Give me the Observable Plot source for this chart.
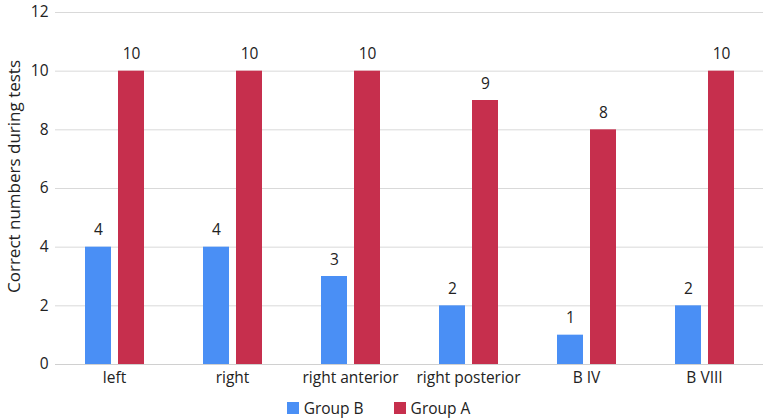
<!DOCTYPE html>
<html><head><meta charset="utf-8">
<script src="https://cdn.jsdelivr.net/npm/d3@7"></script>
<script src="https://cdn.jsdelivr.net/npm/@observablehq/plot@0.6"></script>
<style>
body{margin:0;background:#fff;font-family:"Open Sans", sans-serif;}
#chart svg{display:block}
.legend{display:flex;justify-content:center;align-items:center;gap:30px;height:25px;font-size:15.5px;color:#222;padding-right:10px}
.item{display:flex;align-items:center;gap:5px}
.sw{width:12px;height:12px;display:inline-block}
</style></head><body><div id="chart"></div><div class="legend" id="legend"></div><script>
const categories = ["left","right","right anterior","right posterior","B IV","B VIII"];
const groups = ["Group B","Group A"];
const groupB = [4,4,3,2,1,2];
const groupA = [10,10,10,9,8,10];
const colors = ["#4a8ff5","#c62f4d"];
const yTicks = [0,2,4,6,8,10,12];
const yLabel = "Correct numbers during tests";

const data = categories.flatMap((c,i)=>[
  {category:c,group:groups[0],value:groupB[i]},
  {category:c,group:groups[1],value:groupA[i]}
]);

const plot = Plot.plot({
  width:767,height:395,marginLeft:53,marginRight:3,marginTop:12,marginBottom:31,
  style:{fontFamily:"'Open Sans', sans-serif",fontSize:"15.5px",color:"#222",background:"#fff"},
  fx:{domain:categories,padding:0,label:null,axis:"bottom",tickSize:0,tickPadding:7},
  x:{domain:groups,paddingInner:0.224,paddingOuter:0.88,axis:null},
  y:{domain:[0,12],axis:null},
  color:{domain:groups,range:colors},
  marks:[
    Plot.gridY(yTicks,{stroke:"#d9d9d9",strokeOpacity:1}),
    Plot.axisY(yTicks,{tickSize:0,tickPadding:7,label:null,fontSize:15.5,facetAnchor:"left"}),
    Plot.text([yLabel],{facet:"super",frameAnchor:"left",textAnchor:"middle",rotate:-90,dx:-41,dy:-12,fontSize:17,fill:"#222"}),
    Plot.ruleY([0],{stroke:"#d0d0d0"}),
    Plot.barY(data,{fx:"category",x:"group",y:"value",fill:"group"}),
    Plot.text(data,{fx:"category",x:"group",y:"value",text:"value",dy:-12,lineAnchor:"bottom",fontSize:15.5,fill:"#222"})
  ]
});
document.getElementById("chart").append(plot);
const lg = document.getElementById("legend");
groups.forEach((g,i)=>{
  const it=document.createElement("span");it.className="item";
  const sw=document.createElement("span");sw.className="sw";sw.style.background=colors[i];
  it.append(sw,document.createTextNode(g));lg.append(it);
});
</script></body></html>
